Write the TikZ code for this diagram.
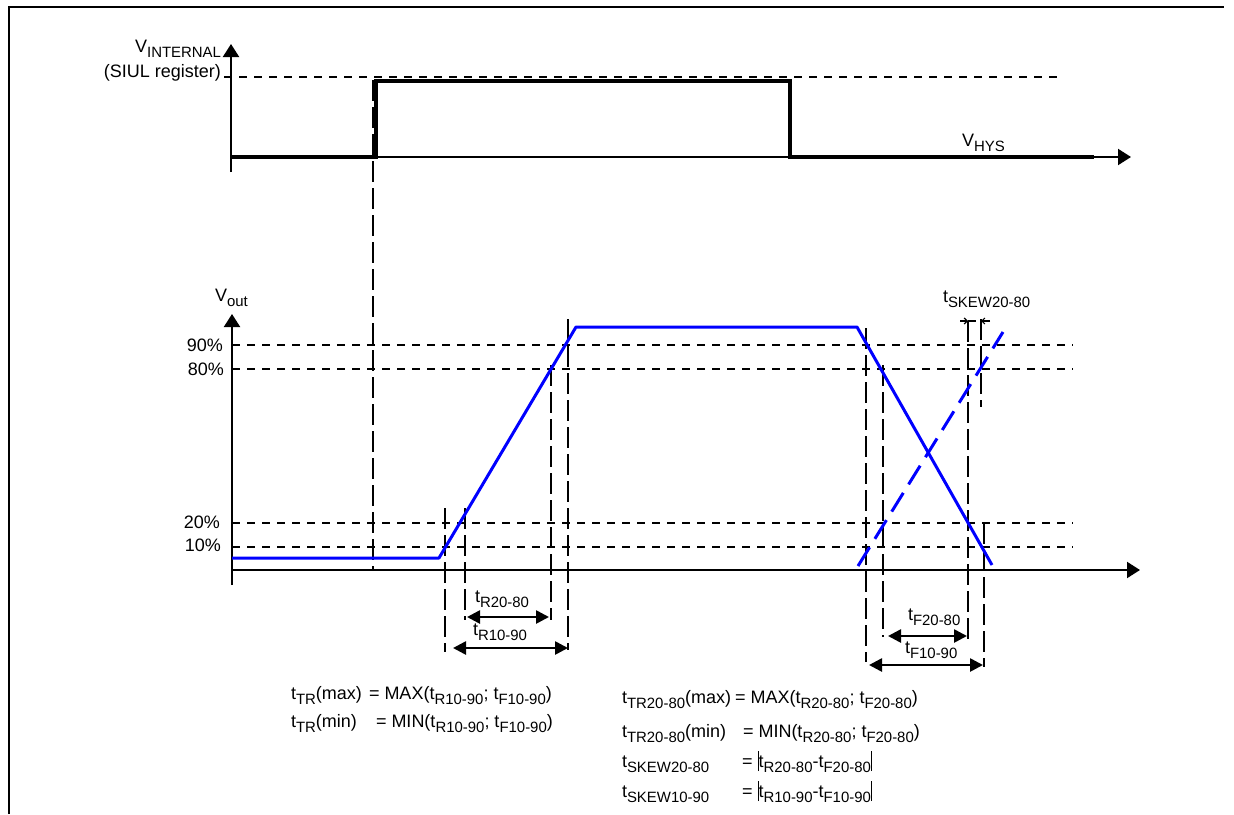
\documentclass[tikz,border=0pt]{standalone}
\usepackage{fontspec}
\setmainfont{Liberation Sans}
\usepackage{graphicx}
\usetikzlibrary{arrows.meta}
\definecolor{wblue}{RGB}{0,0,255}
\newcommand\lo[1]{\raisebox{-0.28em}{\scalebox{0.83}{#1}}}
\newcommand\absbar{\vrule width 1.1pt height 16pt depth 4pt}
\begin{document}
\begin{tikzpicture}[x=1pt,y=-1pt,
  every node/.style={inner sep=0pt, outer sep=0pt},
  txt/.style={font=\fontsize{18}{21}\selectfont},
  frame/.style={line width=2pt},
  axis/.style={line width=2pt, -{Triangle[length=13pt,width=16pt]}},
  sig/.style={line width=3.4pt},
  levelline/.style={line width=1.8pt, dash pattern=on 8pt off 7pt},
  vdash/.style={line width=2pt, dash pattern=on 21pt off 6pt},
  wave/.style={line width=3pt, draw=wblue},
  wavedash/.style={line width=3pt, draw=wblue, dash pattern=on 22pt off 10pt},
  dim/.style={line width=2.6pt, {Triangle[length=13pt,width=13pt]}-{Triangle[length=13pt,width=13pt]}},
  tiny/.style={line width=1.2pt}]
\useasboundingbox (0,0) rectangle (1234,814);

% frame
\draw[frame] (8.5,814) -- (8.5,7) -- (1224,7);

% ---------- top diagram ----------
\draw[levelline] (224,77) -- (1060,77);
\draw[axis] (231,172) -- (231,44);
\draw[axis] (231,157) -- (1131,157);
\draw[sig] (231,157) -- (376,157) -- (376,81) -- (790,81) -- (790,157) -- (1094,157);
\draw[vdash] (373,80) -- (373,570);

\node[txt, anchor=base east] (vint) at (221,52) {V\lo{INTERNAL}};
\node[txt, anchor=base east] (siul) at (221,77) {(SIUL register)};
\node[txt, anchor=base west] (vhys) at (962,146) {V\lo{HYS}};

% ---------- bottom diagram ----------
\foreach \yy in {345,369,523,547} \draw[levelline] (232,\yy) -- (1073,\yy);
\draw[axis] (232,585) -- (232,314);
\draw[axis] (232,570) -- (1140,570);

\node[txt, anchor=base west] (vout) at (215,301.5) {V\lo{out}};
\node[txt, anchor=base east] (p90) at (223,351) {90\%};
\node[txt, anchor=base east] (p80) at (224,375) {80\%};
\node[txt, anchor=base east] (p20) at (220,528) {20\%};
\node[txt, anchor=base east] (p10) at (221,551) {10\%};

% vertical dashed markers (rise)
\draw[vdash] (445,508) -- (445,652);
\draw[vdash] (465,508) -- (465,620);
\draw[vdash] (551,365) -- (551,620);
\draw[vdash] (568,319) -- (568,650);
% vertical dashed markers (fall)
\draw[vdash] (866,328) -- (866,662);
\draw[vdash] (883,365) -- (883,637);
\draw[vdash] (968,321) -- (968,640);
\draw[vdash] (981,319) -- (981,407);
\draw[vdash] (984,523) -- (984,667);

% waveforms
\draw[wave, line join=round] (232,558) -- (439,558) -- (576,327) -- (857,327) -- (992,565);
\draw[wavedash] (858,566) -- (1003,332);

% skew marker
\coordinate (sk1) at (968,321);
\coordinate (sk2) at (981,321);
\draw[tiny, -{Straight Barb[length=3pt,width=6pt]}] (960,321) -- (sk1);
\draw[tiny] (sk1) -- (976,321);
\draw[tiny, -{Straight Barb[length=3pt,width=6pt]}] (990,321) -- (sk2);
\node[txt, anchor=base west] (tskew) at (943,302) {t\lo{SKEW20-80}};

% dimension arrows
\coordinate (r2a) at (467,617);
\coordinate (r2b) at (549,617);
\coordinate (r1a) at (453,648);
\coordinate (r1b) at (568,648);
\coordinate (f2a) at (888,636);
\coordinate (f2b) at (967,636);
\coordinate (f1a) at (869,665);
\coordinate (f1b) at (983,665);
\draw[dim] (r2a) -- (r2b);
\draw[dim] (r1a) -- (r1b);
\draw[dim] (f2a) -- (f2b);
\draw[dim] (f1a) -- (f1b);
\node[txt, anchor=base west] (lr2) at (475,602) {t\lo{R20-80}};
\node[txt, anchor=base west] (lr1) at (473,635) {t\lo{R10-90}};
\node[txt, anchor=base west] (lf2) at (908,620) {t\lo{F20-80}};
\node[txt, anchor=base west] (lf1) at (905,653) {t\lo{F10-90}};

% formulas left
\node[txt, anchor=base west] (fl1a) at (291,699) {t\lo{TR}(max)};
\node[txt, anchor=base west] (fl1b) at (369,699) {= MAX(t\lo{R10-90}; t\lo{F10-90})};
\node[txt, anchor=base west] (fl2a) at (291,727) {t\lo{TR}(min)};
\node[txt, anchor=base west] (fl2b) at (376,727) {= MIN(t\lo{R10-90}; t\lo{F10-90})};

% formulas right
\node[txt, anchor=base west] (fr1a) at (622,703) {t\lo{TR20-80}(max)};
\node[txt, anchor=base west] (fr1b) at (735,703) {= MAX(t\lo{R20-80}; t\lo{F20-80})};
\node[txt, anchor=base west] (fr2a) at (622,737) {t\lo{TR20-80}(min)};
\node[txt, anchor=base west] (fr2b) at (743,737) {= MIN(t\lo{R20-80}; t\lo{F20-80})};
\node[txt, anchor=base west] (fr3a) at (622,767) {t\lo{SKEW20-80}};
\node[txt, anchor=base west] (fr3b) at (742,767) {= \absbar t\lo{R20-80}-t\lo{F20-80}\absbar};
\node[txt, anchor=base west] (fr4a) at (622,797) {t\lo{SKEW10-90}};
\node[txt, anchor=base west] (fr4b) at (742,797) {= \absbar t\lo{R10-90}-t\lo{F10-90}\absbar};
\end{tikzpicture}
\end{document}
